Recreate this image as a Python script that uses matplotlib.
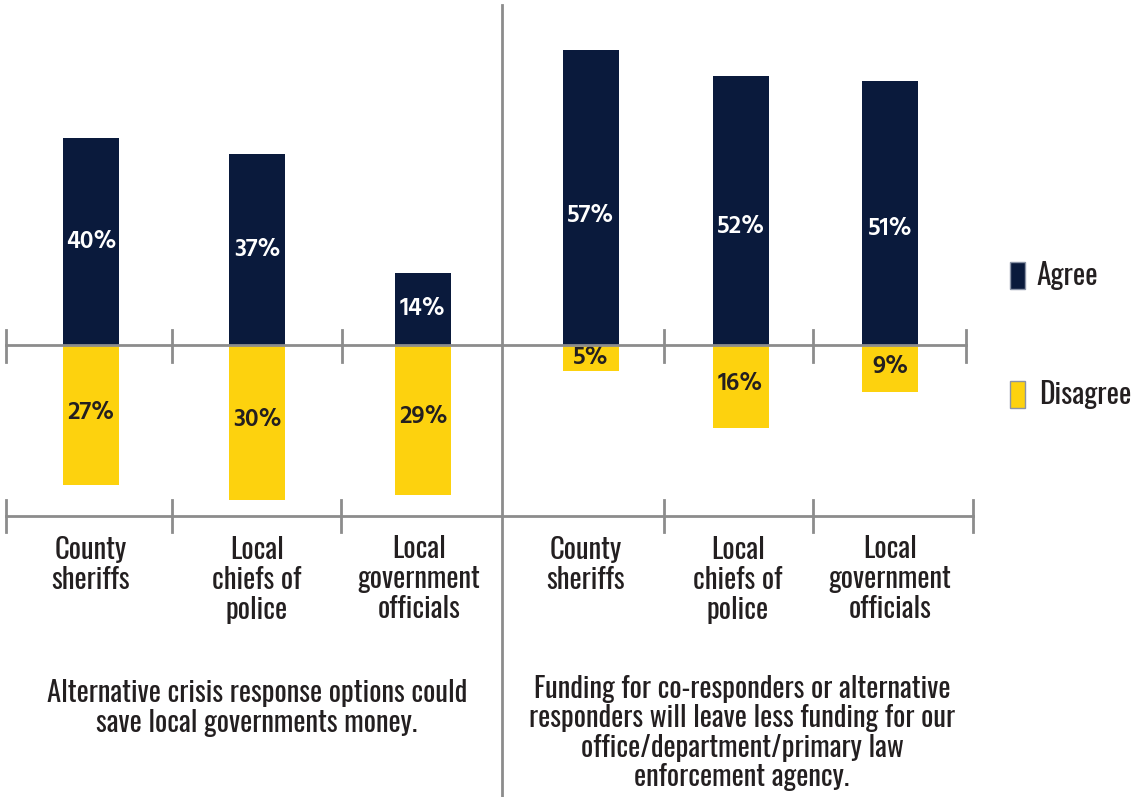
import matplotlib
matplotlib.use("Agg")
import matplotlib.pyplot as plt
from matplotlib.patches import Rectangle

# Survey data
categories = ["County\nsheriffs", "Local\nchiefs of\npolice", "Local\ngovernment\nofficials"]
left_agree = [40, 37, 14]
left_disagree = [27, 30, 29]
right_agree = [57, 52, 51]
right_disagree = [5, 16, 9]
left_caption = "Alternative crisis response options could\nsave local governments money."
right_caption = ("Funding for co-responders or alternative\nresponders will leave less funding for our\n"
                 "office/department/primary law\nenforcement agency.")
legend_labels = ["Agree", "Disagree"]

NAVY = "#0a1a3c"
YELLOW = "#fdd20e"
GRAY = "#8c8c8c"
TEXT = "#231f20"

COND = ["Oswald", "DejaVu Sans"]
NUM = ["Hind", "DejaVu Sans"]
FS = 20.7
LS = 1.07

W, H = 1133, 797
fig = plt.figure(figsize=(W / 100, H / 100), dpi=100)

# Value axis: baseline at 345 px from top, ~5.17 px per percentage point
PX_PER = 5.17
BASE = 345
ylim = (-(H - BASE) / PX_PER, BASE / PX_PER)


def bar_axes(first_center, spacing):
    ax = fig.add_axes([0, 0, 1, 1])
    ax.set_xlim(-first_center / spacing, (W - first_center) / spacing)
    ax.set_ylim(*ylim)
    ax.axis("off")
    ax.patch.set_alpha(0)
    return ax


def draw_group(ax, agree, disagree, width, up_frac, down_frac):
    x = list(range(len(agree)))
    ax.bar(x, agree, width=width, color=NAVY, zorder=2)
    ax.bar(x, [-d for d in disagree], width=width, color=YELLOW, zorder=2)
    for xi, a, d in zip(x, agree, disagree):
        ax.text(xi, a * up_frac, f"{a}%", color="white", ha="center", va="center",
                fontsize=18, fontweight="semibold", family=NUM, zorder=3)
        ax.text(xi, -d * down_frac, f"{d}%", color=TEXT, ha="center", va="center",
                fontsize=18, fontweight="semibold", family=NUM, zorder=3)


ax_l = bar_axes(91, 166)
draw_group(ax_l, left_agree, left_disagree, 56 / 166, 0.5, 0.48)
ax_r = bar_axes(591, 149.5)
draw_group(ax_r, right_agree, right_disagree, 56 / 149.5, 0.44, 0.47)

# Overlay in pixel coordinates for rules, labels, and legend
ov = fig.add_axes([0, 0, 1, 1])
ov.set_xlim(0, W)
ov.set_ylim(H, 0)
ov.axis("off")
ov.patch.set_alpha(0)

# zero line with separators
ov.plot([6, 966], [345, 345], color=GRAY, lw=2, zorder=1)
for tx in [6, 172, 342, 664, 813, 966]:
    ov.plot([tx, tx], [330, 362], color=GRAY, lw=2, zorder=1)
# category axis
ov.plot([6, 973], [516, 516], color=GRAY, lw=2)
for tx in [6, 172, 341, 664, 813, 973]:
    ov.plot([tx, tx], [500, 532], color=GRAY, lw=2)
# divider between the two statements
ov.plot([502, 502], [5, H], color=GRAY, lw=2)

cat_x = [91, 257, 419, 586, 738, 890]
cat_y = [565, 580, 579, 565, 580, 579]
for cx, cy, lab in zip(cat_x, cat_y, categories + categories):
    ov.text(cx, cy, lab, ha="center", va="center", fontsize=FS, family=COND,
            color=TEXT, linespacing=LS)

ov.text(257, 708, left_caption, ha="center", va="center", fontsize=FS, family=COND,
        color=TEXT, linespacing=LS)
ov.text(742, 733, right_caption, ha="center", va="center", fontsize=FS, family=COND,
        color=TEXT, linespacing=LS)

# legend
for (y0, col, lab, tx) in [(262, NAVY, legend_labels[0], 1036), (381, YELLOW, legend_labels[1], 1039)]:
    ov.add_patch(Rectangle((1010, y0), 15, 27, facecolor=col, edgecolor="#8a93a6", lw=1))
    ov.text(tx, y0 + 13, lab, ha="left", va="center", fontsize=FS + 0.5, family=COND, color=TEXT)

fig.savefig("out.png", dpi=100)
